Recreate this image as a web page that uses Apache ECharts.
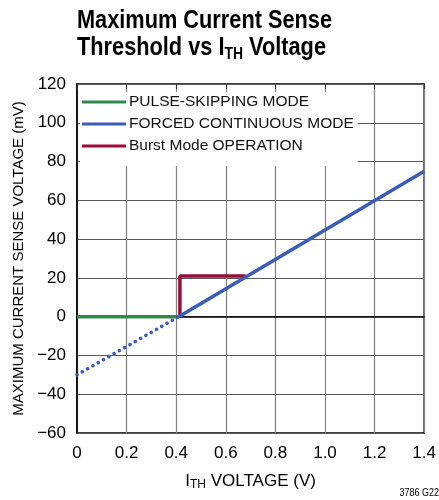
<!DOCTYPE html>
<html><head><meta charset="utf-8">
<script src="https://cdn.jsdelivr.net/npm/echarts@6/dist/echarts.min.js"></script>
<style>html,body{margin:0;padding:0;background:#fff}#c{width:439px;height:500px}</style>
</head><body><div id="c"></div>
<script>
var pulseSkipping = [[0, 0], [0.41, 0]];
var forcedContinuous = [[0.41, 0], [1.4, 75]];
var forcedExtrap = [[0, -30], [0.41, 0]];
var burstMode = [[0.415, 0], [0.415, 21], [0.68, 21]];
var xTicks = ['0', '0.2', '0.4', '0.6', '0.8', '1.0', '1.2', '1.4'];
var seriesNames = ['PULSE-SKIPPING MODE', 'FORCED CONTINUOUS MODE', 'Burst Mode OPERATION'];

var FONT = "'Liberation Sans', Arial, sans-serif";
var GREEN = '#2f8a4c', BLUE = '#3b5cb8', RED = '#990c36';
var chart = echarts.init(document.getElementById('c'), null, {renderer: 'canvas'});
chart.setOption({
  animation: false,
  grid: {left: 77, right: 11, top: 84, bottom: 67, show: true, borderColor: '#000', borderWidth: 1.5, containLabel: false},
  legend: {
    orient: 'vertical', left: 80, top: 92,
    itemWidth: 44, itemHeight: 3, itemGap: 6,
    icon: 'rect',
    backgroundColor: '#fff',
    padding: [2, 4, 12, 2],
    textStyle: {fontFamily: FONT, fontSize: 15.5, color: '#111', padding: [0, 0, 0, -2]},
    data: seriesNames
  },
  xAxis: [{
    type: 'value', min: 0, max: 1.4, interval: 0.2,
    axisLine: {show: true, lineStyle: {color: '#000', width: 1.5}},
    axisTick: {show: false},
    axisLabel: {fontFamily: FONT, fontSize: 17, color: '#000', margin: 12,
      formatter: function (v) { return xTicks[Math.round(v / 0.2)]; }},
    splitLine: {show: true, lineStyle: {color: '#808080', width: 1.2}},
    name: '{a|I}{s|TH}{a| VOLTAGE (V)}',
    nameLocation: 'middle', nameGap: 38,
    nameTextStyle: {rich: {
      a: {fontFamily: FONT, fontSize: 17, color: '#000'},
      s: {fontFamily: FONT, fontSize: 12, color: '#000', padding: [8, 0, 0, 0]}
    }}
  }, {
    type: 'value', min: 0, max: 1.4, interval: 0.2, position: 'top',
    axisLine: {show: false},
    axisTick: {show: true, inside: true, length: 5, lineStyle: {color: '#333'}},
    axisLabel: {show: false}, splitLine: {show: false}
  }],
  yAxis: {
    type: 'value', min: -60, max: 120, interval: 20,
    axisLine: {show: true, lineStyle: {color: '#000', width: 1.5}},
    axisTick: {show: false},
    axisLabel: {fontFamily: FONT, fontSize: 17, color: '#000', margin: 11,
      formatter: function (v) { return v < 0 ? '\u2212' + (-v) : String(v); }},
    splitLine: {show: true, lineStyle: {color: '#5a5a5a', width: 1.2}},
    name: 'MAXIMUM CURRENT SENSE VOLTAGE (mV)',
    nameLocation: 'middle', nameGap: 46,
    nameTextStyle: {fontFamily: FONT, fontSize: 15, color: '#000'}
  },
  series: [
    {name: seriesNames[0], type: 'line', data: pulseSkipping, symbol: 'none', lineStyle: {color: GREEN, width: 3.5}, itemStyle: {color: GREEN}, z: 3},
    {name: seriesNames[1], type: 'line', data: forcedContinuous, symbol: 'none', lineStyle: {color: BLUE, width: 3.5}, itemStyle: {color: BLUE}, z: 4},
    {name: 'extrap', type: 'line', data: forcedExtrap, symbol: 'none', lineStyle: {color: BLUE, width: 3.5, type: [0.1, 6], cap: 'round'}, itemStyle: {color: BLUE}, z: 4},
    {name: seriesNames[2], type: 'line', data: burstMode, symbol: 'none', lineStyle: {color: RED, width: 3.5}, itemStyle: {color: RED}, z: 3}
  ],
  graphic: [{
    type: 'text', x: 77, y: 8, scaleX: 0.87,
    style: {
      text: '{t|Maximum Current Sense}\n{t|Threshold vs I}{s|TH}{t| Voltage}',
      rich: {
        t: {fontFamily: FONT, fontWeight: 'bold', fontSize: 25, fill: '#000', lineHeight: 27},
        s: {fontFamily: FONT, fontWeight: 'bold', fontSize: 16, fill: '#000', padding: [12, 0, 0, 0], lineHeight: 27}
      }
    }
  }, {
    type: 'text', right: 0, top: 488, scaleX: 0.9,
    style: {text: '3786 G22', fontFamily: FONT, fontSize: 10, fill: '#000'}
  }]
});
</script></body></html>
